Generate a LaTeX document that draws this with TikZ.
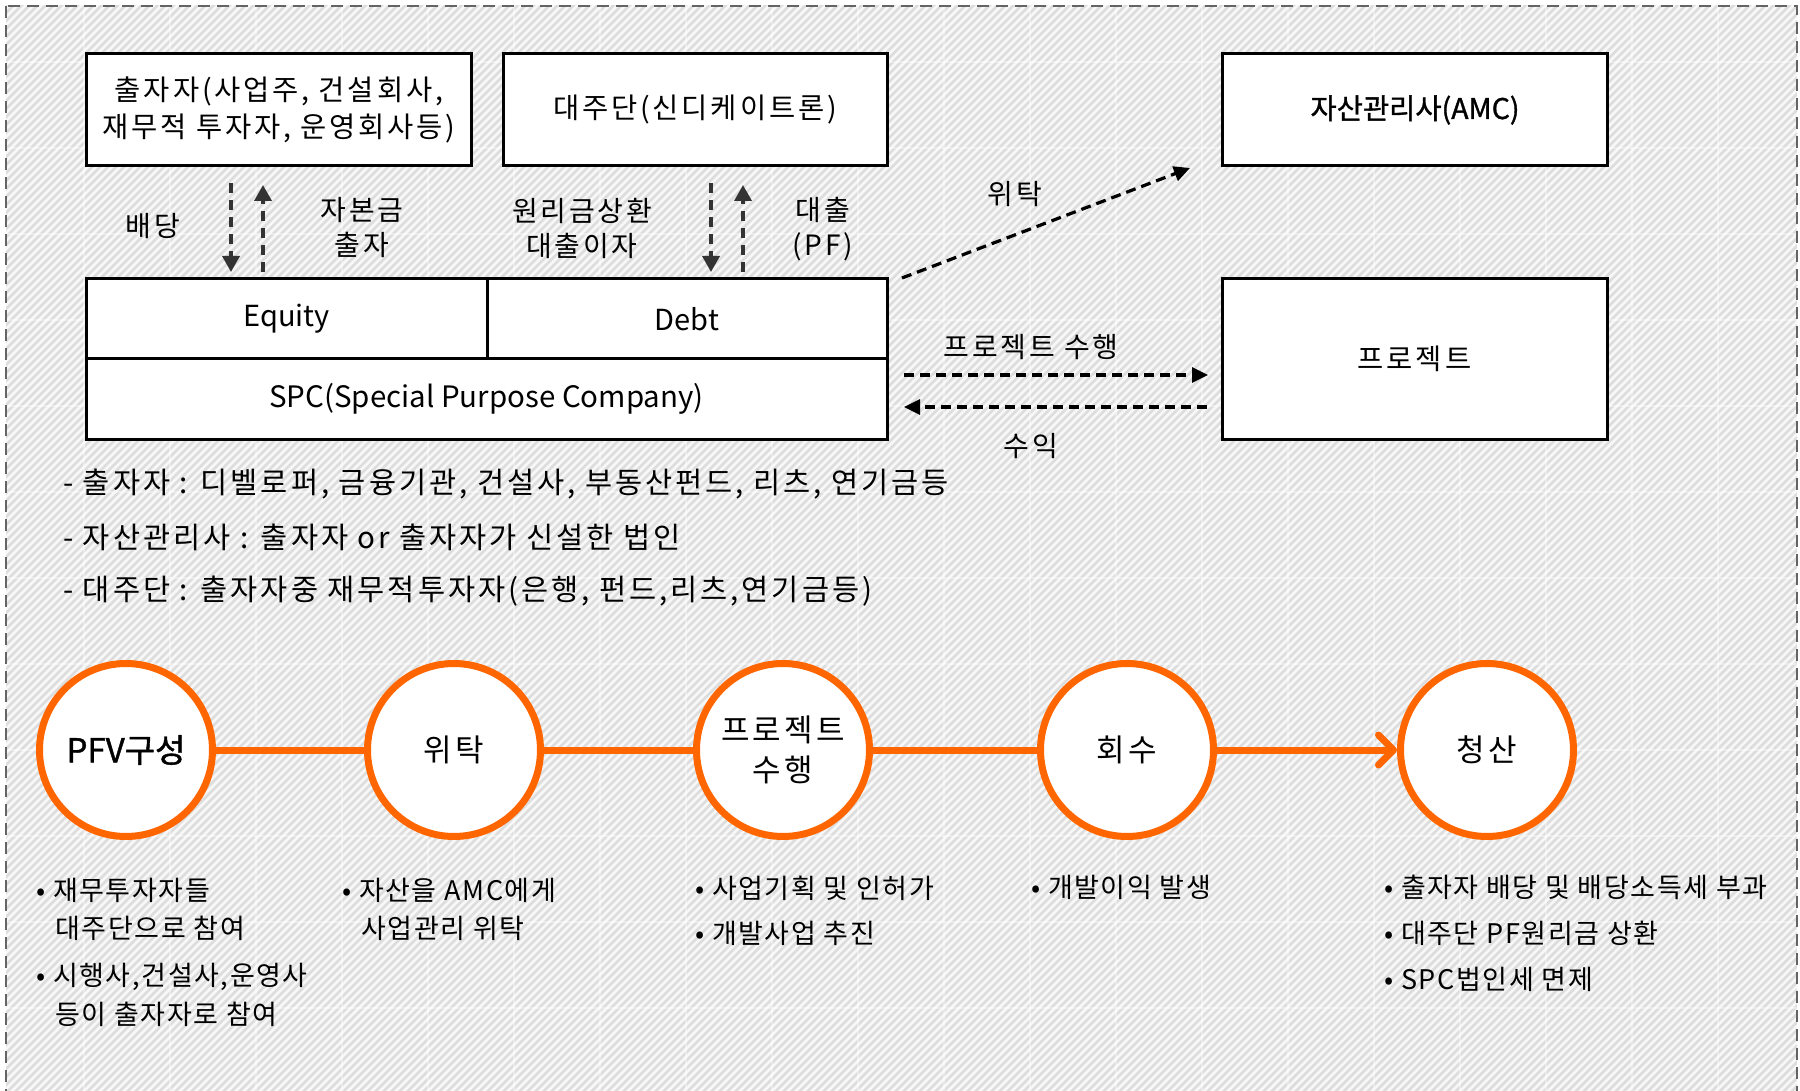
\documentclass[tikz,border=0pt]{standalone}
\usepackage{fontspec}
\setmainfont{Noto Sans CJK KR}
\newfontfamily\krls[LetterSpace=10]{Noto Sans CJK KR}
\newfontfamily\krmd[LetterSpace=6]{Noto Sans CJK KR}
\newfontfamily\krbd[FakeBold=1.2]{Noto Sans CJK KR}
\usetikzlibrary{arrows.meta}
\definecolor{orng}{RGB}{255,102,0}
\definecolor{darkarr}{RGB}{51,51,51}
\definecolor{hatch}{RGB}{221,221,221}
\definecolor{hbg}{RGB}{248,248,248}
\definecolor{bord}{RGB}{100,100,100}
\begin{document}
\begin{tikzpicture}[x=1pt,y=-1pt,
  box/.style={draw=black,line width=3pt,fill=white,inner sep=0pt,align=center,
    font=\krls\fontsize{28.5}{37}\selectfont},
  lbl/.style={inner sep=0pt,align=center,font=\krls\fontsize{28}{35}\selectfont},
  note/.style={inner sep=0pt,anchor=west,font=\krls\fontsize{29.5}{32}\selectfont},
  bul/.style={inner sep=0pt,anchor=west,font=\krmd\fontsize{27}{30}\selectfont},
  darr/.style={draw=darkarr,line width=3.6pt,dash pattern=on 10pt off 7pt,
    -{Triangle[length=16pt,width=17pt]}},
  blarr/.style={draw=black,line width=3.2pt,dash pattern=on 10pt off 6pt,
    -{Triangle[length=16pt,width=15pt]}},
  stepc/.style={circle,draw=orng,line width=7pt,fill=white,minimum size=173pt,
    inner sep=0pt,align=center,font=\krls\fontsize{31}{40}\selectfont},
  link/.style={draw=orng,line width=7pt}]
\useasboundingbox (0,0) rectangle (1800,1091);
\fill[white] (0,0) rectangle (1800,1091);
% hatched background
\begin{scope}
  \clip (6,6) rectangle (1797,1091);
  \fill[hbg] (0,0) rectangle (1800,1091);
  \foreach \i in {-1100,-1092,...,1800}
    \draw[hatch,line width=2.8pt] (\i,1095) -- (\i+1100,-5);
  \foreach \gx in {84,170,...,1800}
    \draw[white,opacity=0.4,line width=2.5pt] (\gx,0) -- (\gx,1091);
  \foreach \gy in {62,148,...,1091}
    \draw[white,opacity=0.4,line width=2.5pt] (0,\gy) -- (1800,\gy);
\end{scope}
\draw[bord,line width=2.5pt,dash pattern=on 12pt off 7pt] (6,6) rectangle (1797,1110);

% top boxes
\node[box,minimum width=385pt,minimum height=112pt] (inv) at (279,110)
  {출자자(사업주, 건설회사,\\재무적 투자자, 운영회사등)};
\node[box,minimum width=384pt,minimum height=112pt] (lend) at (695,110)
  {대주단(신디케이트론)};
\node[box,minimum width=385pt,minimum height=112pt,font=\krbd\fontsize{28.5}{36}\selectfont] (amc) at (1415,110)
  {자산관리사(AMC)};
% SPC
\node[box,minimum width=401pt,minimum height=80pt,font=\fontsize{29}{36}\selectfont] (eq) at (286.5,319) {\raisebox{-3pt}{Equity}};
\node[box,minimum width=400pt,minimum height=80pt,font=\fontsize{29}{36}\selectfont] (debt) at (687,319) {Debt};
\node[box,minimum width=801pt,minimum height=80pt,font=\fontsize{29.5}{36}\selectfont] (spc) at (486.5,399) {SPC(Special Purpose Company)};
% project
\node[box,minimum width=385pt,minimum height=160pt] (proj) at (1414.5,359) {프로젝트};

% arrow end points
\coordinate (divA) at (231,183); \coordinate (divB) at (231,272);
\coordinate (capA) at (263,272); \coordinate (capB) at (263,185);
\coordinate (repA) at (711,183); \coordinate (repB) at (711,272);
\coordinate (loanA) at (743,272); \coordinate (loanB) at (743,185);
\coordinate (trA) at (902,278); \coordinate (trB) at (1190,168);
\coordinate (exA) at (904,375); \coordinate (exB) at (1208,375);
\coordinate (rvA) at (1207,407); \coordinate (rvB) at (904,407);

\draw[darr] (divA) -- (divB);
\draw[darr] (capA) -- (capB);
\draw[darr] (repA) -- (repB);
\draw[darr] (loanA) -- (loanB);
\draw[blarr] (trA) -- (trB);
\draw[blarr] (exA) -- (exB);
\draw[blarr] (rvA) -- (rvB);

% labels
\node[lbl] (l1) at (153,226) {배당};
\node[lbl] (l2) at (362,228) {자본금\\출자};
\node[lbl] (l3) at (582,228) {원리금상환\\대출이자};
\node[lbl] (l4) at (823,229) {대출\\(PF)};
\node[lbl] (l5) at (1015,194) {위탁};
\node[lbl] (l6) at (1031,347) {프로젝트 수행};
\node[lbl] (l7) at (1031,446) {수익};

% notes
\node[note] (n1) at (63,484) {- 출자자 : 디벨로퍼, 금융기관, 건설사, 부동산펀드, 리츠, 연기금등};
\node[note] (n2) at (63,537) {- 자산관리사 : 출자자 or 출자자가 신설한 법인};
\node[note] (n3) at (63,591) {- 대주단 : 출자자중 재무적투자자(은행, 펀드,리츠,연기금등)};

% process circles
\node[stepc,font=\krbd\fontsize{33}{40}\selectfont] (c1) at (126,750) {PFV구성};
\node[stepc] (c2) at (454,750) {위탁};
\node[stepc] (c3) at (783,750) {프로젝트\\수행};
\node[stepc] (c4) at (1127,750) {회수};
\node[stepc] (c5) at (1487,750) {청산};
\draw[link] (c1) -- (c2);
\draw[link] (c2) -- (c3);
\draw[link] (c3) -- (c4);
\draw[link,-{Straight Barb[length=15pt,width=30pt,round]}] (c4) -- (c5);

% bullets
\node[bul] (b11) at (36,890) {• 재무투자자들};
\node[bul] (b12) at (55,928) {대주단으로 참여};
\node[bul] (b13) at (36,977) {• 시행사,건설사,운영사};
\node[bul] (b14) at (55,1014) {등이 출자자로 참여};
\node[bul] (b21) at (342,890) {• 자산을 AMC에게};
\node[bul] (b22) at (361,928) {사업관리 위탁};
\node[bul] (b31) at (695,888) {• 사업기획 및 인허가};
\node[bul] (b32) at (695,933) {• 개발사업 추진};
\node[bul] (b41) at (1031,887) {• 개발이익 발생};
\node[bul] (b51) at (1384,887) {• 출자자 배당 및 배당소득세 부과};
\node[bul] (b52) at (1384,933) {• 대주단 PF원리금 상환};
\node[bul] (b53) at (1384,979) {• SPC법인세 면제};
\end{tikzpicture}
\end{document}
